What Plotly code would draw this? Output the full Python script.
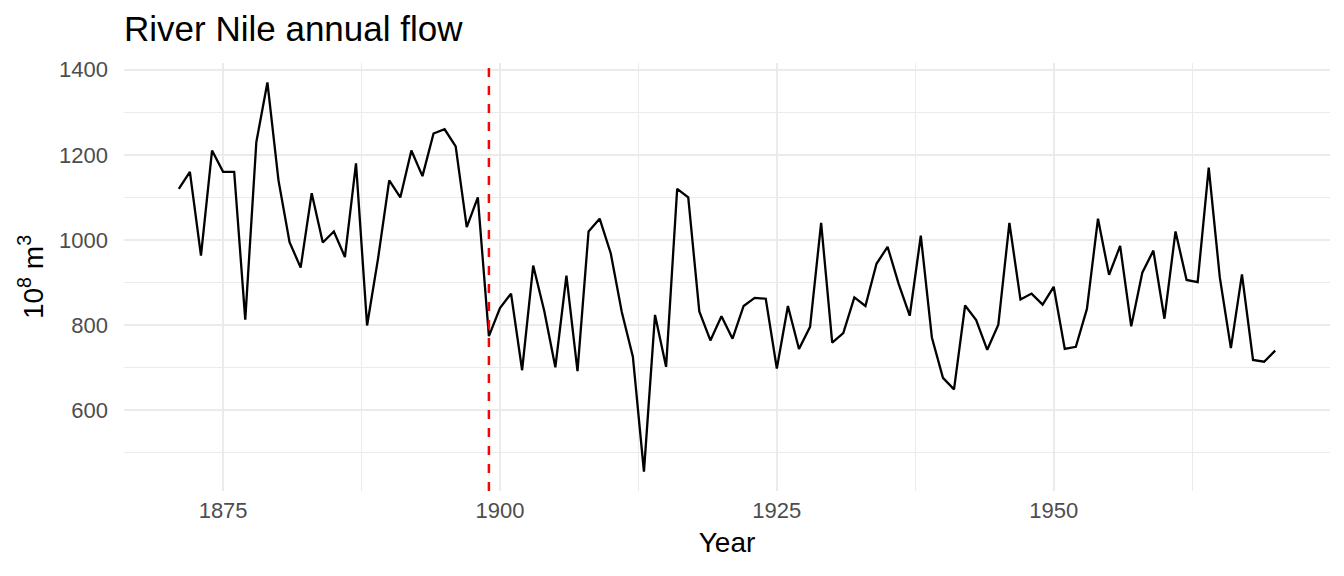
import plotly.graph_objects as go

# Nile annual flow, 1871-1970 (10^8 m^3)
years = list(range(1871, 1971))
flow = [
    1120, 1160, 963, 1210, 1160, 1160, 813, 1230, 1370, 1140,
    995, 935, 1110, 994, 1020, 960, 1180, 799, 958, 1140,
    1100, 1210, 1150, 1250, 1260, 1220, 1030, 1100, 774, 840,
    874, 694, 940, 833, 701, 916, 692, 1020, 1050, 969,
    831, 726, 456, 824, 702, 1120, 1100, 832, 764, 821,
    768, 845, 864, 862, 698, 845, 744, 796, 1040, 759,
    781, 865, 845, 944, 984, 897, 822, 1010, 771, 676,
    649, 846, 812, 742, 801, 1040, 860, 874, 848, 890,
    744, 749, 838, 1050, 918, 986, 797, 923, 975, 815,
    1020, 906, 901, 1170, 912, 746, 919, 718, 714, 740,
]
change_year = 1899

x_ticks = [1875, 1900, 1925, 1950]
y_ticks = [600, 800, 1000, 1200, 1400]

# ggplot-style 5% expansion
xspan = years[-1] - years[0]
yspan = max(flow) - min(flow)
x_range = [years[0] - 0.05 * xspan, years[-1] + 0.05 * xspan]
y_range = [min(flow) - 0.05 * yspan, max(flow) + 0.05 * yspan]

fig = go.Figure()
fig.add_trace(go.Scatter(
    x=years, y=flow, mode="lines",
    line=dict(color="black", width=2.3),
    showlegend=False,
))

fig.add_vline(x=change_year, line=dict(color="#ff0000", width=2.5, dash="dash"))

# page body has an 8px margin, so the figure is a bit smaller than the window
W, H = 1328, 560
font_name = "Liberation Sans, Arial, sans-serif"
fig.update_layout(
    width=W, height=H,
    margin=dict(l=116, r=6, t=55, b=77),
    paper_bgcolor="white", plot_bgcolor="white",
    font=dict(family=font_name, color="black"),
    title=dict(
        text="River Nile annual flow",
        x=116 / W, xanchor="left",
        y=1 - 21 / H, yanchor="middle",
        font=dict(size=35, color="black"),
    ),
)
fig.update_xaxes(
    range=x_range, tickvals=x_ticks, automargin=False,
    showgrid=True, gridcolor="#ebebeb", gridwidth=2,
    minor=dict(dtick=12.5, tick0=1862.5, showgrid=True, gridcolor="#ebebeb", gridwidth=1),
    zeroline=False, showline=False, ticks="", ticklabelstandoff=4,
    tickfont=dict(size=22, color="#4d4d4d"),
    title=dict(text="Year", font=dict(size=28, color="black"), standoff=10),
)
fig.update_yaxes(
    range=y_range, tickvals=y_ticks, automargin=False,
    showgrid=True, gridcolor="#ebebeb", gridwidth=2,
    minor=dict(dtick=100, tick0=500, showgrid=True, gridcolor="#ebebeb", gridwidth=1),
    zeroline=False, showline=False, ticks="", ticklabelstandoff=15,
    tickfont=dict(size=22, color="#4d4d4d"),
    title=dict(text="10<sup>8</sup> m<sup>3</sup>", font=dict(size=28, color="black"), standoff=7),
)

fig.write_html("out.html")
